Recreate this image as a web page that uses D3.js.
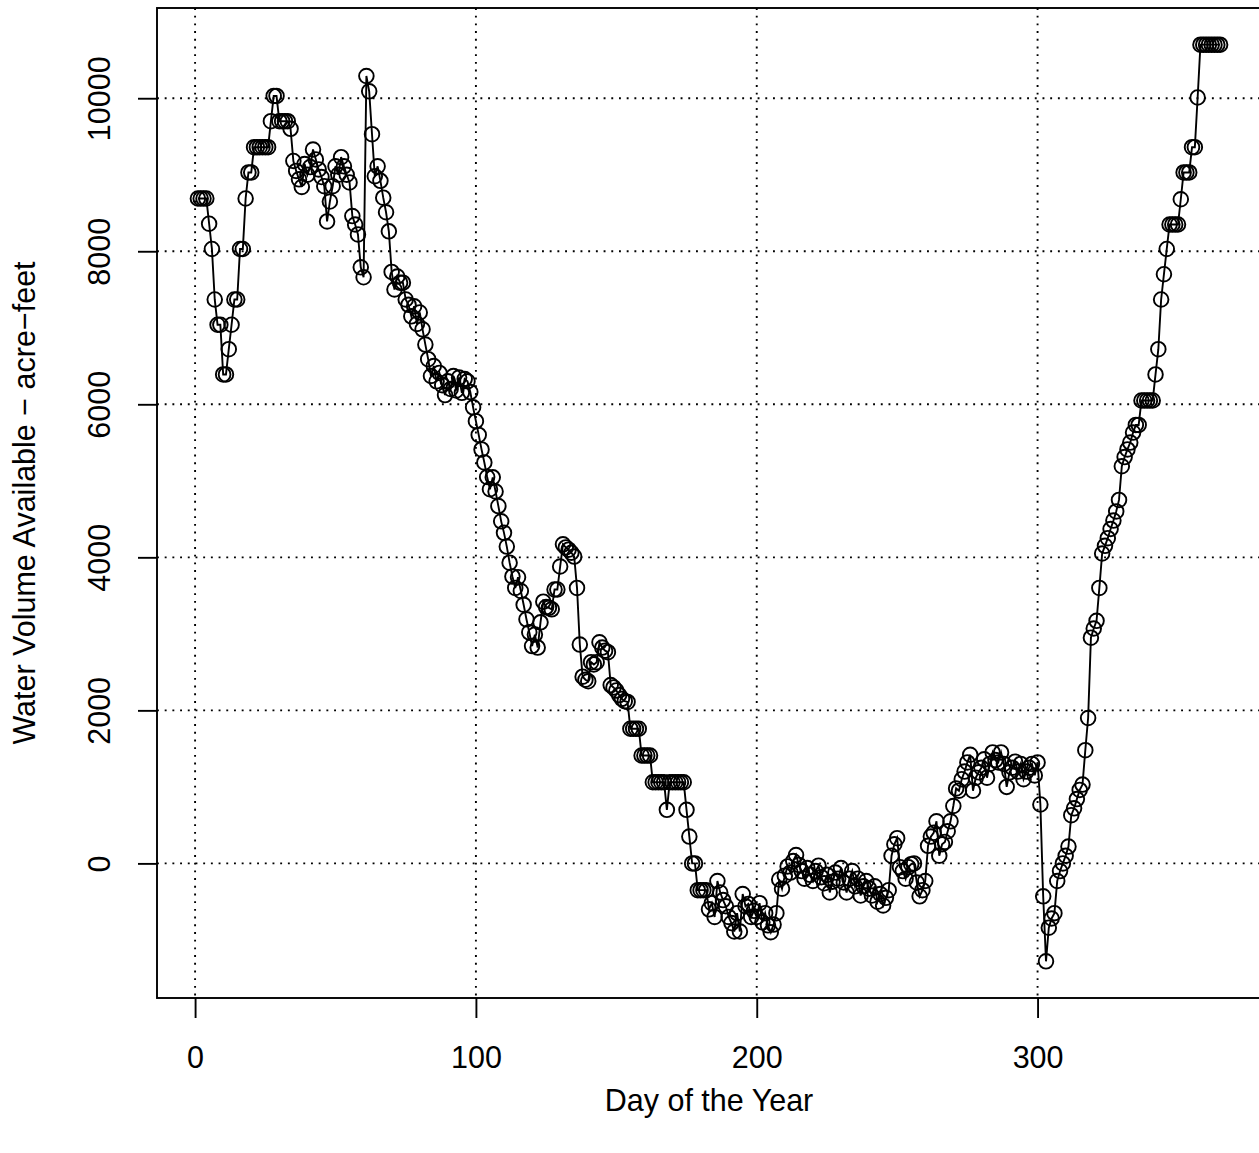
<!DOCTYPE html>
<html>
<head>
<meta charset="utf-8">
<script src="https://cdn.jsdelivr.net/npm/d3@7"></script>
<style>
  html, body { margin: 0; padding: 0; background: #fff; }
  svg { display: block; }
  text { font-family: "Liberation Sans", Arial, Helvetica, sans-serif; fill: #000; }
</style>
</head>
<body>
<svg id="chart" width="1259" height="1153"></svg>
<script>
// ---- data ----
const days = d3.range(1, 366);
const volume = [
  8690, 8690, 8690, 8690, 8360, 8030, 7370, 7040, 7040, 6390,
  6390, 6720, 7040, 7370, 7370, 8030, 8030, 8690, 9030, 9030,
  9360, 9360, 9360, 9360, 9360, 9360, 9700, 10030, 10030, 9700,
  9700, 9700, 9700, 9600, 9180, 9050, 8940, 8840, 9140, 9000,
  9100, 9330, 9200, 9070, 8970, 8850, 8390, 8650, 8850, 9110,
  9000, 9230, 9110, 9000, 8900, 8460, 8350, 8220, 7790, 7660,
  10290, 10090, 9530, 8980, 9110, 8920, 8700, 8510, 8260, 7730,
  7500, 7670, 7590, 7590, 7370, 7300, 7150, 7280, 7050, 7200,
  6980, 6780, 6590, 6370, 6500, 6300, 6410, 6250, 6120, 6300,
  6200, 6370, 6180, 6350, 6150, 6330, 6300, 6160, 5960, 5780,
  5600, 5410, 5240, 5050, 4890, 5045, 4860, 4670, 4470, 4320,
  4140, 3930, 3750, 3600, 3740, 3560, 3380, 3190, 3020, 2840,
  2990, 2820, 3150, 3420, 3350, 3340, 3320, 3580, 3580, 3880,
  4170, 4130, 4100, 4060, 4010, 3600, 2860, 2440, 2400, 2380,
  2630, 2600, 2630, 2890, 2820, 2780, 2760, 2330, 2300, 2260,
  2200, 2150, 2120, 2110, 1760, 1760, 1760, 1760, 1410, 1410,
  1410, 1410, 1060, 1060, 1060, 1060, 1060, 700, 1060, 1060,
  1060, 1060, 1060, 1060, 700, 350, 0, 0, -350, -350,
  -350, -350, -600, -520, -700, -230, -380, -480, -560, -700,
  -780, -890, -650, -890, -400, -560, -530, -700, -620, -700,
  -520, -770, -650, -810, -900, -800, -650, -210, -330, -160,
  -40, -120, 30, 110, -20, -100, -200, -60, -150, -230,
  -100, -30, -180, -260, -150, -380, -240, -120, -200, -60,
  -250, -380, -200, -100, -300, -200, -420, -300, -230, -330,
  -420, -300, -500, -400, -550, -450, -350, 100, 250, 330,
  -50, -100, -200, -50, -10, 0, -250, -430, -350, -230,
  230, 350, 400, 550, 100, 250, 280, 420, 550, 750,
  980, 950, 1100, 1200, 1320, 1420, 950, 1120, 1190, 1250,
  1360, 1120, 1300, 1450, 1350, 1320, 1450, 1300, 1000, 1190,
  1250, 1330, 1200, 1300, 1100, 1200, 1250, 1300, 1150, 1320,
  770, -430, -1280, -840, -720, -650, -230, -100, 0, 100,
  220, 630, 720, 840, 960, 1030, 1480, 1900, 2950, 3070,
  3170, 3600, 4050, 4150, 4250, 4370, 4480, 4600, 4750, 5190,
  5310, 5410, 5500, 5630, 5730, 5730, 6050, 6050, 6050, 6050,
  6050, 6390, 6720, 7370, 7700, 8030, 8350, 8350, 8350, 8350,
  8680, 9030, 9030, 9030, 9360, 9360, 10010, 10700, 10700, 10700,
  10700, 10700, 10700, 10700, 10700
];
const xTicks = [0, 100, 200, 300];
const yTicks = [0, 2000, 4000, 6000, 8000, 10000];
const xLabel = "Day of the Year";
const yLabel = "Water Volume Available \u2212 acre\u2212feet";

// ---- layout ----
const plotL = 157, plotR = 1261, plotT = 8, plotB = 998;
const svg = d3.select("#chart");

// R-style 4% axis extension
function rExtend(ext) { const r = ext[1] - ext[0]; return [ext[0] - 0.04 * r, ext[1] + 0.04 * r]; }
const x = d3.scaleLinear().domain(rExtend(d3.extent(days))).range([plotL, plotR]);
const y = d3.scaleLinear().domain(rExtend(d3.extent(volume))).range([plotB, plotT]);

const data = days.map((d, i) => ({ day: d, v: volume[i] }));
const fontSize = 30.5;
const lw = 1.9;

// grid (dotted)
const grid = svg.append("g").attr("stroke", "#000").attr("stroke-width", lw)
  .attr("stroke-dasharray", "1.9,5.8");
grid.selectAll("line.v").data(xTicks).join("line").attr("class", "v")
  .attr("x1", d => x(d)).attr("x2", d => x(d)).attr("y1", plotT).attr("y2", plotB);
grid.selectAll("line.h").data(yTicks).join("line").attr("class", "h")
  .attr("y1", d => y(d)).attr("y2", d => y(d)).attr("x1", plotL).attr("x2", plotR);

// line
svg.append("path").datum(data)
  .attr("fill", "none").attr("stroke", "#000").attr("stroke-width", lw)
  .attr("d", d3.line().x(d => x(d.day)).y(d => y(d.v)));

// points
svg.append("g").selectAll("circle").data(data).join("circle")
  .attr("cx", d => x(d.day)).attr("cy", d => y(d.v)).attr("r", 7.3)
  .attr("fill", "none").attr("stroke", "#000").attr("stroke-width", lw);

// box
svg.append("rect").attr("x", plotL).attr("y", plotT).attr("width", plotR - plotL).attr("height", plotB - plotT)
  .attr("fill", "none").attr("stroke", "#000").attr("stroke-width", lw);

// x axis
const xAxis = d3.axisBottom(x).tickValues(xTicks).tickSize(20).tickFormat(d3.format("d"));
const gx = svg.append("g").attr("transform", `translate(0,${plotB})`).call(xAxis);
gx.select(".domain").remove();
gx.selectAll(".tick line").attr("stroke", "#000").attr("stroke-width", lw);
gx.selectAll(".tick text").attr("font-size", fontSize).attr("font-family", "Liberation Sans, Arial, sans-serif")
  .attr("fill", "#000").attr("y", 70).attr("dy", 0);

// y axis
const yAxis = d3.axisLeft(y).tickValues(yTicks).tickSize(19).tickFormat(d3.format("d"));
const gy = svg.append("g").attr("transform", `translate(${plotL},0)`).call(yAxis);
gy.select(".domain").remove();
gy.selectAll(".tick line").attr("stroke", "#000").attr("stroke-width", lw);
gy.selectAll(".tick text").attr("font-size", fontSize).attr("font-family", "Liberation Sans, Arial, sans-serif")
  .attr("fill", "#000").attr("x", null).attr("dy", 0)
  .attr("text-anchor", "middle")
  .attr("transform", "translate(-47,0) rotate(-90)");

// axis titles
svg.append("text").attr("x", (plotL + plotR) / 2).attr("y", 1111)
  .attr("text-anchor", "middle").attr("font-size", fontSize).text(xLabel);
svg.append("text").attr("transform", `translate(35,${(plotT + plotB) / 2}) rotate(-90)`)
  .attr("text-anchor", "middle").attr("font-size", fontSize).text(yLabel);
</script>
</body>
</html>
